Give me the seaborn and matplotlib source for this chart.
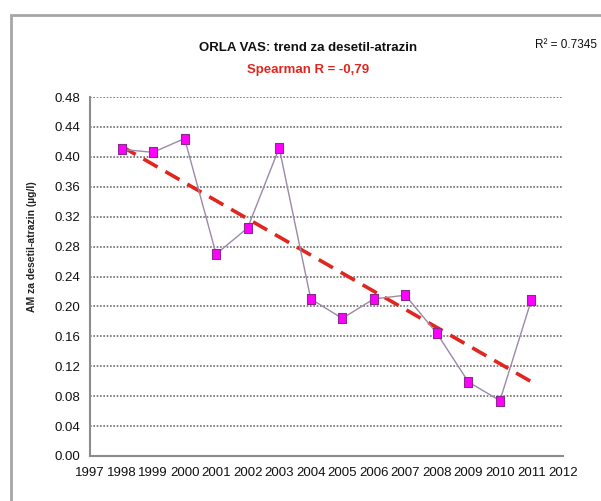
"""
ORLA VAS: trend for desethyl-atrazine (AM), 1998-2011
"""
import numpy as np
import pandas as pd
import matplotlib
matplotlib.use("Agg")
import matplotlib.pyplot as plt
import seaborn as sns
from matplotlib.patches import Rectangle
from matplotlib.ticker import FixedLocator

# data
years = [1998, 1999, 2000, 2001, 2002, 2003, 2004, 2005, 2006, 2007, 2008, 2009, 2010, 2011]
am_values = [0.410, 0.406, 0.4245, 0.270, 0.305, 0.412, 0.210, 0.184, 0.210, 0.215, 0.164, 0.099, 0.074, 0.209]
y_ticks = [0.00, 0.04, 0.08, 0.12, 0.16, 0.20, 0.24, 0.28, 0.32, 0.36, 0.40, 0.44, 0.48]
x_ticks = list(range(1997, 2013))

title = "ORLA VAS: trend za desetil-atrazin"
subtitle = "Spearman R = -0,79"
r2_text = "R² = 0.7345"
ylabel = "AM za desetil-atrazin (µg/l)"

df = pd.DataFrame({"year": years, "am": am_values})

sns.set_theme(style="white")
plt.rcParams["font.family"] = ["Liberation Sans", "DejaVu Sans"]

fig = plt.figure(figsize=(6.01, 5.01), dpi=100)
fig.patch.set_facecolor("white")

# Excel-like chart frame (runs off the right and bottom edges)
fig.patches.append(Rectangle((11 / 601, -0.05), 1.2, 1 - 15 / 501 + 0.05,
                             transform=fig.transFigure, fill=False,
                             edgecolor="#a6a6a6", linewidth=2.0, zorder=0))

ax = fig.add_axes([90 / 601, 1 - 456 / 501, (563 - 90) / 601, (456 - 97) / 501])

# regression trend line
sns.regplot(data=df, x="year", y="am", ax=ax, scatter=False, ci=None, truncate=True,
            line_kws={"color": "#e0261e", "linestyle": (0, (4.5, 2.5)), "linewidth": 2.6, "zorder": 3})

# yearly values
box = [(-0.4, -0.5), (0.4, -0.5), (0.4, 0.5), (-0.4, 0.5), (-0.4, -0.5)]
sns.lineplot(data=df, x="year", y="am", ax=ax, color="#9c88a8", linewidth=1.0,
             marker=box, markersize=7.5, markerfacecolor="#ff00ff",
             markeredgecolor="#8a2a8a", markeredgewidth=0.8, zorder=4)

ax.set_xlim(1997, 2012)
ax.set_ylim(0, 0.48)
ax.xaxis.set_major_locator(FixedLocator(x_ticks))
ax.yaxis.set_major_locator(FixedLocator(y_ticks))
ax.set_yticklabels([f"{v:.2f}" for v in y_ticks])

ax.yaxis.grid(True, color="#6e6e6e", linestyle=(0, (1, 1)), linewidth=1.2)
ax.xaxis.grid(False)
for side in ["top", "right"]:
    ax.spines[side].set_visible(False)
for side in ["left", "bottom"]:
    ax.spines[side].set_color("#8c8c8c")
    ax.spines[side].set_linewidth(1.5)

ax.tick_params(axis="both", which="major", direction="out", length=4, width=1,
               color="#8c8c8c", labelsize=9.5, labelcolor="#111111")
ax.tick_params(axis="x", pad=4)
ax.tick_params(axis="y", pad=3)

ax.set_xlabel("")
ax.set_ylabel("")
fig.text(32 / 601, 1 - 247 / 501, ylabel, rotation=90, ha="center", va="center",
         fontsize=7.5, fontweight="bold", color="#222222")

fig.text(308 / 601, 1 - 48 / 501, title, ha="center", va="center",
         fontsize=9.5, fontweight="bold", color="#111111")
fig.text(308 / 601, 1 - 70 / 501, subtitle, ha="center", va="center",
         fontsize=9.5, fontweight="bold", color="#e0261e")
fig.text(597 / 601, 1 - 45 / 501, r2_text, ha="right", va="center",
         fontsize=8.5, color="#111111")

fig.savefig("out.png", dpi=100, facecolor="white")
